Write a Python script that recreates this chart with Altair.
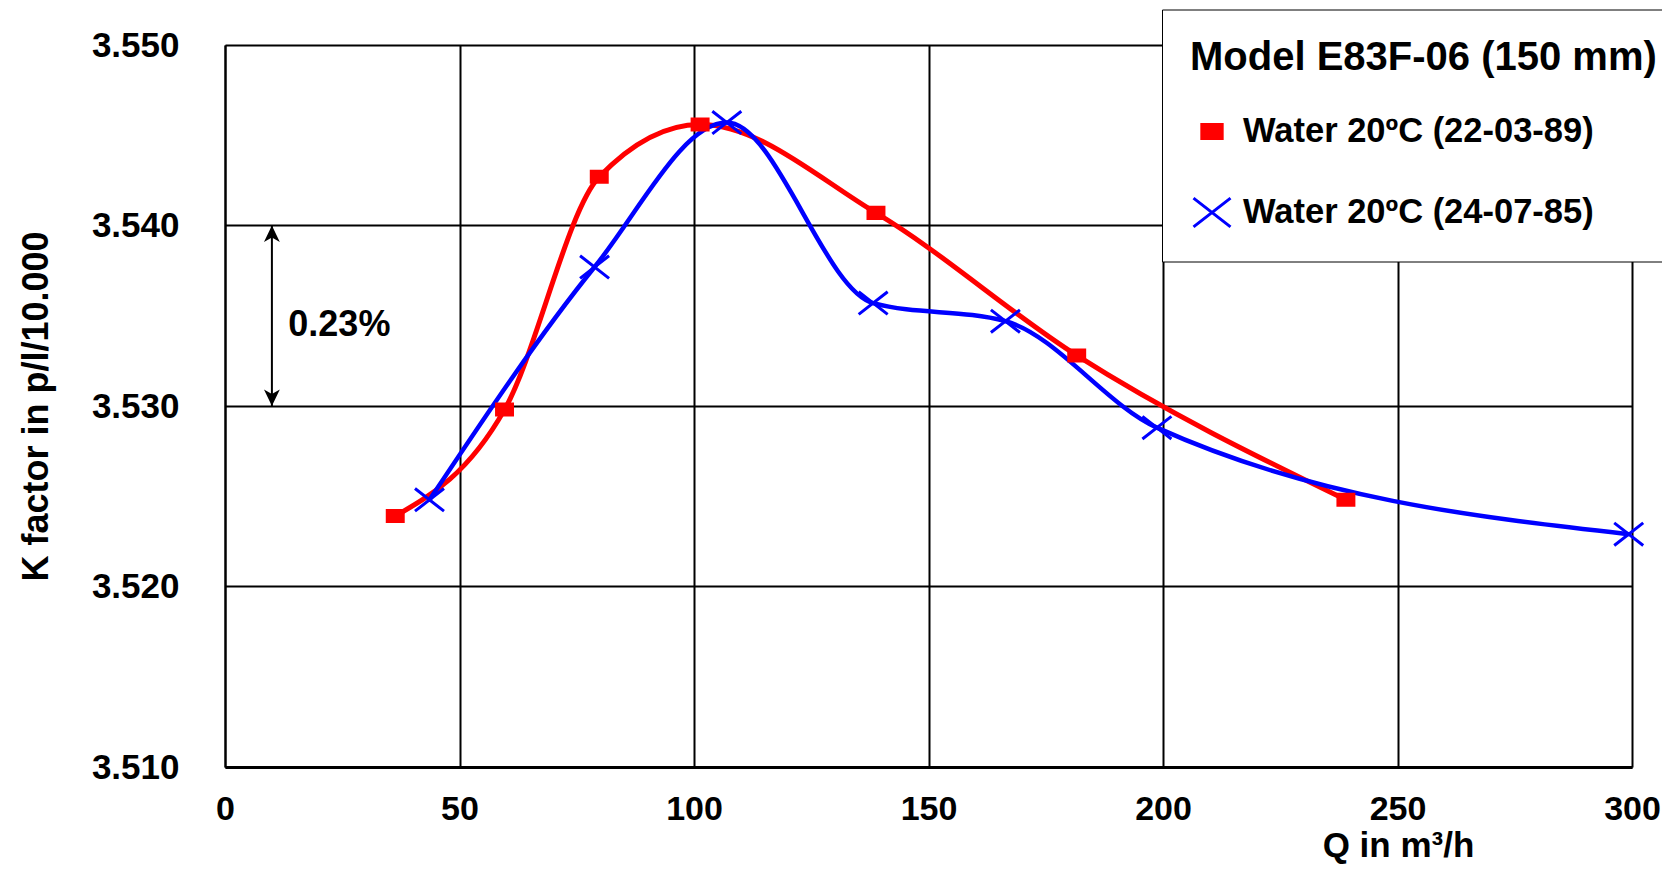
import altair as alt
import pandas as pd

# ---- text ----
x_label = "Q in m³/h"
y_label = "K factor in p/l/10.000"
legend_title = "Model E83F-06 (150 mm)"
series_names = ["Water 20ºC (22-03-89)", "Water 20ºC (24-07-85)"]

# ---- data ----
red_q = [36.3, 59.6, 79.8, 101.3, 138.8, 181.6, 239.0]
red_k = [3.5239, 3.5298, 3.5427, 3.5456, 3.5407, 3.5328, 3.5248]
blue_q = [43.6, 78.8, 107.0, 138.2, 166.4, 198.7, 299.3]
blue_k = [3.5248, 3.5377, 3.5457, 3.5357, 3.5347, 3.5288, 3.5229]

x_ticks = [0, 50, 100, 150, 200, 250, 300]
y_ticks = [3.510, 3.520, 3.530, 3.540, 3.550]

# annotation: double arrow spanning 3.530 .. 3.540 with label
arrow_q = [10]
arrow_k = [3.530, 3.540]
note_text = ["0.23%"]
note_q = [13.5]
note_k = [3.5345]

FONT = "Liberation Sans"

df = pd.DataFrame({
    "Q": red_q + blue_q,
    "K": red_k + blue_k,
    "series": [series_names[0]] * len(red_q) + [series_names[1]] * len(blue_q),
})
arrow_df = pd.DataFrame({"Q": arrow_q, "K": [arrow_k[0]], "K2": [arrow_k[1]]})
head_top_df = pd.DataFrame({"Q": arrow_q, "K": [arrow_k[1]]})
head_bot_df = pd.DataFrame({"Q": arrow_q, "K": [arrow_k[0]]})
note_df = pd.DataFrame({"Q": note_q, "K": note_k, "t": note_text})

x_scale = alt.Scale(domain=[0, 300], nice=False, zero=False)
y_scale = alt.Scale(domain=[3.510, 3.550], nice=False, zero=False)

x_axis = alt.Axis(
    values=x_ticks, format="d", grid=True, gridColor="black", gridWidth=2,
    gridOpacity=1, domainColor="black", domainWidth=3, ticks=False, tickSize=0,
    labelPadding=25, labelFontSize=34, labelFont=FONT, labelFontWeight="bold",
    labelColor="black", labelFlush=False, labelOverlap=False,
    title=x_label, titleFont=FONT, titleFontSize=35, titleFontWeight="bold",
    titleColor="black", titleX=1173, titleY=89, titleAlign="center",
    titleBaseline="alphabetic",
)
y_axis = alt.Axis(
    values=y_ticks, format=".3f", grid=True, gridColor="black", gridWidth=2,
    gridOpacity=1, domainColor="black", domainWidth=2, ticks=False, tickSize=0,
    labelPadding=46, labelFontSize=35, labelFont=FONT, labelFontWeight="bold",
    labelColor="black", labelOverlap=False,
    title=y_label, titleFont=FONT, titleFontSize=36, titleFontWeight="bold",
    titleColor="black", titleAngle=270, titleX=-178, titleY=361,
    titleAlign="center", titleBaseline="alphabetic",
)

rect_path = "M-0.55,-0.38H0.55V0.38H-0.55Z"
x_path = "M-1,-0.78L1,0.78M-1,0.78L1,-0.78"

legend = alt.Legend(
    orient="none", legendX=937, legendY=-35.5, direction="vertical",
    title=legend_title, titleFont=FONT, titleFontSize=40, titleFontWeight="bold",
    titleColor="black", titleLimit=700, titlePadding=34,
    labelFont=FONT, labelFontSize=34.5, labelFontWeight="bold", labelColor="black",
    labelLimit=700, labelOffset=11,
    symbolSize=1369, symbolStrokeWidth=3, symbolOffset=2,
    rowPadding=43, padding=28, strokeColor="black", fillColor="white", zindex=1,
)

base = alt.Chart(df)

red_line = base.transform_filter(alt.datum.series == series_names[0]).mark_line(
    interpolate="monotone", strokeWidth=5
).encode(
    x=alt.X("Q:Q", scale=x_scale, axis=x_axis),
    y=alt.Y("K:Q", scale=y_scale, axis=y_axis),
    stroke=alt.value("#ff0000"),
)
blue_line = base.transform_filter(alt.datum.series == series_names[1]).mark_line(
    interpolate="monotone", strokeWidth=4.5
).encode(
    x=alt.X("Q:Q", scale=x_scale),
    y=alt.Y("K:Q", scale=y_scale),
    stroke=alt.value("#0000ff"),
)
points = base.mark_point(size=841, strokeWidth=3, opacity=1).encode(
    x=alt.X("Q:Q", scale=x_scale),
    y=alt.Y("K:Q", scale=y_scale),
    shape=alt.Shape("series:N", title=legend_title, legend=legend,
                    scale=alt.Scale(domain=series_names, range=[rect_path, x_path])),
    fill=alt.Fill("series:N", title=legend_title, legend=legend,
                  scale=alt.Scale(domain=series_names, range=["#ff0000", "transparent"])),
    stroke=alt.Stroke("series:N", title=legend_title, legend=legend,
                      scale=alt.Scale(domain=series_names, range=["#ff0000", "#0000ff"])),
)

arrow_rule = alt.Chart(arrow_df).mark_rule(color="black", strokeWidth=2).encode(
    x=alt.X("Q:Q", scale=x_scale), y=alt.Y("K:Q", scale=y_scale), y2="K2:Q"
)
head_top = alt.Chart(head_top_df).mark_point(
    shape="M0,0L0.48,1L0,0.72L-0.48,1Z", filled=True, color="black", size=1089,
    strokeWidth=0, opacity=1
).encode(x=alt.X("Q:Q", scale=x_scale), y=alt.Y("K:Q", scale=y_scale))
head_bot = alt.Chart(head_bot_df).mark_point(
    shape="M0,0L0.48,-1L0,-0.72L-0.48,-1Z", filled=True, color="black", size=1089,
    strokeWidth=0, opacity=1
).encode(x=alt.X("Q:Q", scale=x_scale), y=alt.Y("K:Q", scale=y_scale))
note = alt.Chart(note_df).mark_text(
    align="left", baseline="middle", font=FONT, fontSize=36, fontWeight="bold",
    color="black"
).encode(x=alt.X("Q:Q", scale=x_scale), y=alt.Y("K:Q", scale=y_scale), text="t:N")

chart = alt.layer(
    red_line, blue_line, points, arrow_rule, head_top, head_bot, note
).properties(
    width=1407, height=722,
    padding={"left": 217, "top": 37, "right": 30, "bottom": 97},
    autosize=alt.AutoSizeParams(type="none"),
    background="white",
).configure_view(
    stroke="black", strokeWidth=2
).configure_legend(
    strokeWidth=2.5
).configure(
    font=FONT
)

chart.save("out.html", embed_options={"renderer": "svg", "actions": False})
